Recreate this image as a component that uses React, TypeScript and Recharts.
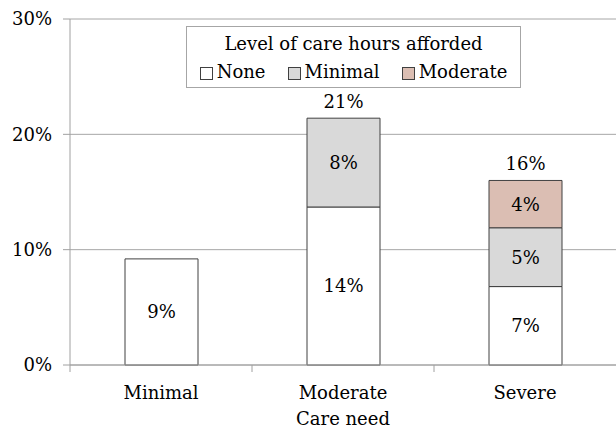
import React from "react"
import { Bar, BarChart, CartesianGrid, LabelList, Label, Legend, XAxis, YAxis } from "recharts"

// care need categories along the x axis
const categories = ["Minimal", "Moderate", "Severe"]

// share of people (%) by level of care hours afforded
const noneShare = [9.2, 13.7, 6.8]
const minimalShare = [0, 7.7, 5.1]
const moderateShare = [0, 0, 4.1]
// totals are only printed over the stacked bars
const showTotal = [false, true, true]

const seriesKeys = ["none", "minimal", "moderate"]
const seriesNames = ["None", "Minimal", "Moderate"]
const seriesColors = ["#ffffff", "#d9d9d9", "#dbbeb3"]
const seriesValues = [noneShare, minimalShare, moderateShare]

const yTicks = [0, 10, 20, 30]

const FONT = "DejaVu Serif"
const FS = 18

const chartData = categories.map((name, i) => {
  const total = noneShare[i] + minimalShare[i] + moderateShare[i]
  // the total goes on whichever series is the top of the stack
  let top = 0
  seriesValues.forEach((vals, s) => {
    if (vals[i] > 0) top = s
  })
  const row: any = { name, none: noneShare[i], minimal: minimalShare[i], moderate: moderateShare[i] }
  seriesKeys.forEach((k, s) => {
    row[k + "Total"] = showTotal[i] && s === top ? total : null
  })
  return row
})

const pct = (v: any) => (v == null || v === 0 ? "" : `${Math.round(Number(v))}%`)

// category tick with the tick mark drawn on the category boundary
const CategoryTick = (props: any) => {
  const { x, y, payload } = props
  return (
    <g>
      <line x1={x - 91} x2={x - 91} y1={y - 21} y2={y - 14} stroke="#a0a0a0" />
      <text x={x} y={y} dy="0.71em" textAnchor="middle" fontSize={FS} fontFamily={FONT} fill="#000">
        {payload.value}
      </text>
    </g>
  )
}

const LegendBox = () => (
  <div
    style={{
      boxSizing: "border-box",
      width: 335,
      height: 62,
      border: "1px solid #a6a6a6",
      background: "#fff",
      fontFamily: FONT,
      fontSize: FS,
      lineHeight: "28px",
      paddingTop: 3,
      textAlign: "center",
      color: "#000",
    }}
  >
    <div>Level of care hours afforded</div>
    <div style={{ display: "flex", justifyContent: "center", alignItems: "center" }}>
      {seriesNames.map((n, i) => (
        <span key={n} style={{ display: "flex", alignItems: "center", marginLeft: i === 0 ? 0 : 22 }}>
          <span
            style={{
              display: "inline-block",
              boxSizing: "border-box",
              width: 13,
              height: 13,
              border: "1px solid #404040",
              background: seriesColors[i],
              marginRight: 4,
              marginTop: 2,
            }}
          />
          {n}
        </span>
      ))}
    </div>
  </div>
)

export default function App() {
  return (
    <div style={{ position: "absolute", left: 0, top: 0, background: "#fff" }}>
      <BarChart width={616} height={430} data={chartData} margin={{ top: 19, right: 0, bottom: 0, left: 0 }}>
        <CartesianGrid vertical={false} stroke="#a6a6a6" />
        <XAxis
          dataKey="name"
          height={65}
          tick={<CategoryTick />}
          tickLine={false}
          tickSize={7}
          tickMargin={14}
          axisLine={{ stroke: "#a0a0a0" }}
        >
          <Label value="Care need" position="insideBottom" offset={5} fontSize={FS} fontFamily={FONT} fill="#000" />
        </XAxis>
        <YAxis
          width={70}
          domain={[0, 30]}
          ticks={yTicks}
          tickFormatter={(v) => `${v}%`}
          tick={{ fontSize: FS, fontFamily: FONT, fill: "#000" }}
          tickSize={7}
          tickMargin={11}
          tickLine={{ stroke: "#a0a0a0" }}
          axisLine={{ stroke: "#a0a0a0" }}
        />
        <Legend verticalAlign="middle" align="center" content={<LegendBox />} wrapperStyle={{ left: 186, top: 26, width: 335, height: 62 }} />
        {seriesKeys.map((k, i) => (
          <Bar
            key={k}
            dataKey={k}
            name={seriesNames[i]}
            stackId="a"
            fill={seriesColors[i]}
            stroke="#404040"
            strokeWidth={1}
            barSize={73}
            isAnimationActive={false}
          >
            <LabelList dataKey={k} position="center" formatter={pct} fontSize={FS} fontFamily={FONT} fill="#000" />
            <LabelList dataKey={k + "Total"} position="top" offset={10} formatter={pct} fontSize={FS} fontFamily={FONT} fill="#000" />
          </Bar>
        ))}
      </BarChart>
    </div>
  )
}
